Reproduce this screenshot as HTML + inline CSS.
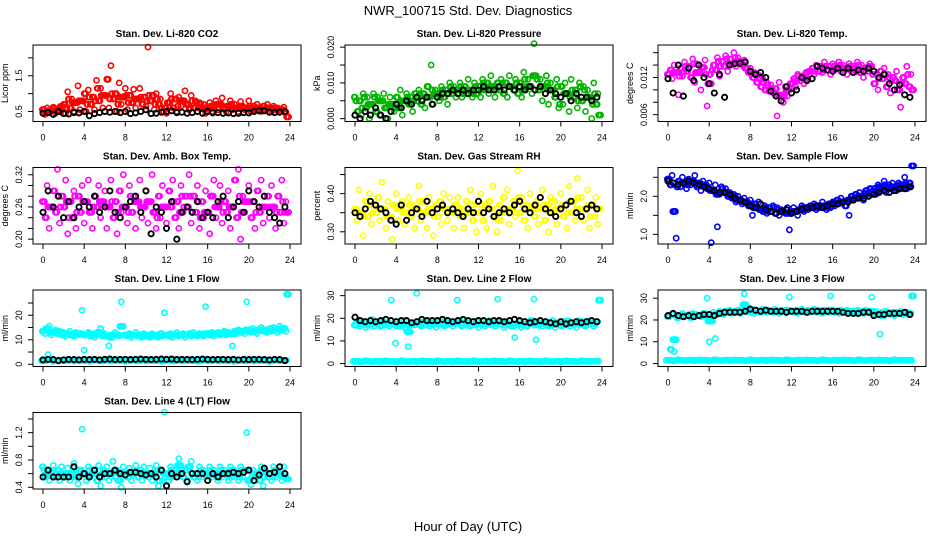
<!DOCTYPE html>
<html><head><meta charset="utf-8"><style>
body{margin:0;background:#fff}
svg{display:block;font-family:"Liberation Sans",Arial,sans-serif}
</style></head><body>
<svg id="chart" width="936" height="540" viewBox="0 0 936 540">
<rect width="936" height="540" fill="#fff"/>
<text x="468" y="15" text-anchor="middle" font-size="13">NWR_100715  Std. Dev. Diagnostics</text>
<text x="468" y="531" text-anchor="middle" font-size="13">Hour of Day (UTC)</text>
</svg>
<script>
const hourTicks=[0,4,8,12,16,20,24];
const co2Vals=[0.55,0.42,0.6,0.48,0.52,0.62,0.45,0.58,0.5,0.64,0.7,0.45,1.05,0.6,0.85,0.5,0.75,1.22,0.55,0.8,1.0,0.5,1.1,0.7,0.9,0.55,1.37,0.8,1.15,0.6,0.95,1.4,0.6,1.78,0.85,1.0,0.5,1.3,0.7,0.9,1.15,0.55,0.95,0.75,1.12,0.6,0.85,1.15,0.7,0.9,0.65,2.3,0.8,0.95,0.55,1.0,0.7,0.85,0.5,0.6,0.45,0.75,1.0,0.6,0.85,0.5,0.9,0.65,0.8,1.08,0.7,0.55,0.95,0.6,0.8,0.5,0.75,0.6,0.7,0.45,0.6,0.75,0.5,0.65,0.8,0.55,0.7,0.88,0.6,0.5,0.65,0.8,0.55,0.7,0.6,0.5,0.78,0.65,0.55,0.6,0.8,0.5,0.65,0.55,0.7,0.6,0.5,0.65,0.55,0.7,0.6,0.5,0.65,0.55,0.6,0.5,0.55,0.62,0.48,0.35];
const co2Black=[0.45,0.47,0.42,0.5,0.44,0.43,0.47,0.46,0.5,0.38,0.44,0.47,0.5,0.48,0.5,0.47,0.5,0.44,0.46,0.5,0.55,0.44,0.45,0.48,0.5,0.52,0.47,0.48,0.45,0.47,0.5,0.45,0.5,0.46,0.47,0.45,0.46,0.44,0.45,0.47,0.46,0.5,0.52,0.52,0.48,0.47,0.48,0.5];
const presVals=[.006,.002,.005,.001,.007,.003,.006,.000,.004,.007,.002,.006,.001,.005,.007,.003,.000,.006,.004,.002,.006,.003,.008,.001,.005,.007,.004,.006,.002,.007,.005,.008,.004,.007,.003,.009,.006,.015,.004,.008,.007,.005,.009,.006,.008,.004,.010,.007,.009,.006,.008,.010,.006,.009,.007,.011,.008,.006,.010,.007,.009,.006,.011,.008,.010,.007,.012,.009,.006,.010,.008,.011,.007,.010,.006,.012,.009,.008,.011,.007,.010,.006,.013,.008,.011,.009,.007,.021,.012,.008,.011,.005,.009,.012,.004,.010,.008,.006,.011,.003,.009,.004,.010,.007,.002,.011,.006,.008,.003,.010,.005,.009,.002,.008,.006,.000,.010,.004,.007,.001];
const presBlack=[.001,.000,.002,.001,.003,.001,.000,.002,.004,.003,.005,.004,.006,.005,.006,.004,.006,.007,.007,.008,.007,.008,.007,.008,.008,.009,.008,.008,.009,.008,.009,.008,.009,.008,.009,.008,.009,.007,.008,.007,.006,.007,.005,.007,.006,.006,.005,.006];
const tempVals=[.0125,.0132,.0118,.0140,.0128,.0092,.0135,.0122,.0145,.0130,.0138,.0120,.0150,.0112,.0142,.0128,.0100,.0136,.0148,.0074,.0125,.0110,.0140,.0132,.0152,.0122,.0146,.0138,.0155,.0130,.0150,.0142,.0160,.0138,.0152,.0146,.0140,.0148,.0135,.0128,.0135,.0120,.0128,.0112,.0124,.0105,.0118,.0100,.0112,.0098,.0108,.0095,.0102,.0058,.0112,.0092,.0080,.0105,.0090,.0100,.0110,.0118,.0105,.0125,.0115,.0122,.0110,.0128,.0118,.0130,.0135,.0125,.0140,.0130,.0138,.0128,.0145,.0132,.0138,.0125,.0142,.0132,.0138,.0145,.0130,.0140,.0135,.0125,.0142,.0135,.0138,.0130,.0145,.0128,.0140,.0120,.0135,.0130,.0142,.0138,.0110,.0125,.0100,.0130,.0118,.0135,.0105,.0125,.0095,.0120,.0115,.0130,.0100,.0072,.0120,.0110,.0138,.0105,.0125,.0100];
const tempBlack=[.0118,.0095,.0140,.0090,.0135,.0115,.0140,.0120,.0110,.0095,.0125,.0088,.0140,.0142,.0143,.0145,.0130,.0125,.0128,.0120,.0098,.0090,.0082,.0105,.0095,.0100,.0120,.0115,.0118,.0138,.0135,.0132,.0130,.0135,.0128,.0135,.0128,.0132,.0130,.0135,.0130,.0120,.0125,.0110,.0100,.0108,.0092,.0088];
const ambVals=[.27,.24,.30,.22,.26,.29,.25,.33,.23,.28,.26,.31,.21,.27,.24,.29,.22,.28,.25,.30,.23,.27,.31,.25,.22,.28,.26,.30,.24,.27,.29,.22,.26,.31,.24,.27,.21,.29,.25,.32,.26,.23,.30,.25,.28,.22,.27,.31,.24,.26,.29,.23,.27,.32,.25,.22,.28,.24,.30,.26,.23,.29,.26,.31,.24,.27,.22,.30,.25,.28,.26,.32,.23,.28,.25,.30,.22,.27,.24,.29,.25,.21,.28,.31,.24,.26,.30,.23,.27,.25,.29,.22,.26,.31,.24,.33,.20,.28,.25,.27,.30,.24,.27,.22,.29,.25,.31,.23,.26,.28,.24,.30,.26,.22,.28,.25,.31,.23,.27,.25];
const ambBlack=[.25,.29,.26,.28,.24,.27,.24,.26,.27,.26,.28,.25,.26,.29,.25,.24,.26,.27,.28,.25,.29,.21,.26,.25,.22,.27,.20,.25,.26,.25,.27,.24,.25,.24,.27,.28,.24,.26,.27,.25,.29,.27,.26,.28,.25,.24,.23,.26];
const rhVals=[.36,.33,.41,.35,.29,.38,.34,.40,.32,.37,.35,.39,.33,.43,.36,.31,.38,.34,.28,.37,.40,.33,.36,.38,.32,.35,.39,.34,.37,.31,.36,.42,.33,.38,.35,.31,.39,.36,.29,.37,.34,.38,.32,.40,.36,.33,.39,.35,.31,.37,.39,.34,.36,.31,.38,.35,.41,.33,.37,.30,.35,.40,.33,.37,.31,.38,.36,.42,.34,.30,.37,.33,.39,.35,.41,.32,.36,.38,.34,.46,.35,.39,.33,.37,.31,.40,.36,.34,.38,.32,.36,.41,.33,.37,.30,.39,.35,.38,.32,.36,.40,.34,.37,.31,.42,.35,.38,.33,.44,.36,.39,.33,.36,.41,.31,.37,.34,.39,.32,.36];
const rhBlack=[.35,.34,.36,.38,.37,.36,.35,.33,.32,.37,.33,.35,.36,.34,.38,.35,.36,.37,.35,.36,.35,.34,.36,.35,.38,.35,.36,.34,.35,.36,.35,.37,.38,.36,.35,.37,.39,.36,.35,.34,.36,.37,.38,.35,.34,.36,.37,.36];
const sflowVals=[2.45,2.3,2.55,1.6,0.9,2.4,2.25,2.5,2.35,2.2,2.45,2.3,2.4,2.55,2.25,2.35,2.15,2.4,2.3,2.2,2.35,0.78,2.15,2.3,1.2,2.05,2.25,2.1,2.2,2.0,2.1,1.95,2.05,1.85,2.0,1.9,1.8,1.95,1.85,1.75,1.9,1.5,1.8,1.7,1.85,1.65,1.6,1.75,1.55,1.7,1.6,1.75,1.55,1.7,1.5,1.65,1.6,1.55,1.7,1.12,1.55,1.7,1.6,1.5,1.65,1.75,1.6,1.7,1.65,1.75,1.7,1.8,1.65,1.75,1.7,1.85,1.75,1.65,1.8,1.7,1.85,1.75,1.9,1.8,1.95,1.85,1.75,1.9,1.5,2.0,1.9,2.05,1.95,2.1,2.0,1.9,2.15,2.05,2.2,2.1,2.2,2.05,2.3,2.15,2.25,2.4,2.1,2.3,2.2,2.35,2.25,2.15,2.35,2.2,2.3,2.5,2.2,2.35,2.25,2.8];
const sflowBlack=[2.4,2.35,2.3,2.35,2.4,2.35,2.3,2.25,2.2,2.15,2.1,2.1,2.05,1.95,1.9,1.85,1.75,1.7,1.8,1.65,1.6,1.55,1.6,1.65,1.55,1.6,1.65,1.7,1.7,1.75,1.7,1.75,1.8,1.8,1.85,1.85,1.9,1.95,1.95,2.0,2.05,2.1,2.15,2.1,2.15,2.2,2.2,2.25];
const l1Vals=[13.5,12.5,14.5,15.5,12,13,14,12.5,13.5,12,13,11.5,12.5,13.5,12,11.5,13,12,12.5,22,5.8,12,13,11.5,12.5,11,12,13,14.5,11.5,12.5,11.5,7.5,12,11,13,12,11.5,25.5,15.5,12,11.5,12.5,11,12,13,11.5,12,11,12.5,11.5,12,11,12.5,11.5,12,11,12.5,11.5,21,12,11.5,12.5,11,12,13,11.5,12,12.5,11,12,12.5,11.5,13,12,11.5,12.5,12,11.5,23.5,12.5,12,13,11.5,12.5,13,12,12.5,13.5,12,13,12.5,7.5,13.5,12.5,14,13,13.5,12.5,25.5,14,13,14.5,13.5,12.5,14,15,13.5,14,13,14.5,13.5,15,14,13,15.5,14,14.5,13.5,28.5];
const l1Low=[1.5,4,1.2,1.8,1.4,1.6,1.3,1.7,1.5,1.2,1.8,1.4,1.6,1.3,1.7,1.5,1.2,1.8,1.4,1.6,1.3,1.7,1.5,1.2,1.8,1.4,1.6,1.3,1.7,1.5,1.2,1.8,1.4,1.6,1.3,1.7,1.5,1.2,1.8,1.4,1.6,1.3,1.7,1.5,1.2,1.8,1.4,1.6];
const l1Black=[1.8,2,1.9,1.5,1.8,2,1.9,1.8,2,1.9,2,1.8,2,2.1,1.9,2,2,1.9,2,2.1,2,1.9,2,2.1,2,2.1,1.9,2,2,1.9,2,2.1,2,1.9,2,2,1.9,2,1.8,2,1.9,2,2,1.9,1.8,2,1.9,1.5];
const l2Vals=[17,18.5,16.5,19,17.5,16,18,17,19.5,16.5,17.5,18.5,16.5,19,17,18,16.5,28,17.5,9,18.5,16.5,17,19,16,7.5,14,18,17,31,17.5,16.5,18.5,17,19,16.5,18,17.5,16,19,17.5,18.5,16.5,17,19,18,16.5,17.5,28,18,16.5,19,17,18,16.5,18.5,17,19,16,17.5,18.5,16.5,17.5,19,17,18,16.5,28.5,17.5,18.5,16,18,17,19,16.5,11.5,17.5,18.5,16,17,18.5,16.5,17.5,19,28.5,10.5,17,18,16.5,17.5,18.5,16.5,17,19,16,18,17.5,16.5,18.5,17,19,16.5,18,17.5,16,19,17.5,18.5,16.5,17,19,18,16.5,17.5,18.5,28];
const l2Low=[1,0.8,1.3,0.9,1.1,0.7,1.2,1,0.8,1.3,0.9,1.1,0.7,1.2,1,0.8,1.3,0.9,1.1,0.7,1.2,1,0.8,1.3,0.9,1.1,0.7,1.2,1,0.8,1.3,0.9,1.1,0.7,1.2,1,0.8,1.3,0.9,1.1,0.7,1.2,1,0.8,1.3,0.9,1.1,1];
const l2Black=[20.5,19,18.5,19,18.5,19,19.5,19,18.5,19,19,18,18.5,19.5,19,19,19,19.5,19,18.5,19,19.5,19,18.5,19,19,18.5,19,19,18.5,19,19.5,19,18.5,18,18.5,19,18.5,18,17.5,18.5,17.5,18,18.5,18,18.5,19,18.5];
const l3Vals=[21.5,6.5,22.5,5.5,11,21,22,23,21.5,22,22.5,21,23,21.5,22.5,22,21.5,23,22,30,10,19.5,23.5,11.5,22.5,24,23,22.5,24,23.5,24.5,23,24,23.5,24.5,23,24,32,27,24,23.5,24.5,23,24.5,24,23.5,25,24,23.5,24.5,24,23.5,25,24,23,24.5,24,23.5,24.5,30.5,24,23.5,24.5,23,24,25,23.5,24,24.5,23.5,24,25,23.5,24.5,24,23,24.5,24,23.5,31,24.5,23.5,24,23,24.5,24,23.5,24.5,24,23.5,24,23,24.5,23.5,24,23,24.5,23.5,24,30.5,23,24,22.5,13.5,23.5,22,24,23,22.5,23.5,22,23.5,23,24,22.5,23,23.5,22.5,23,31];
const l3Low=[1.5,1.2,1.8,1.4,1.6,1.3,1.7,1.5,1.2,1.8,1.4,1.6,1.3,1.7,1.5,1.2,1.8,1.4,1.6,1.3,1.7,1.5,1.2,1.8,1.4,1.6,1.3,1.7,1.5,1.2,1.8,1.4,1.6,1.3,1.7,1.5,1.2,1.8,1.4,1.6,1.3,1.7,1.5,1.2,1.8,1.4,1.6,1.5];
const l3Black=[22,23,22,21.5,22,21.5,22,22.5,22.5,22,23,23.5,23.5,23.5,23.5,24,25,24.5,24,24.5,24,24,24,23.5,24,24,24,23.5,24,24,24,24,24,24,23.5,23,23,23,23.5,23.5,22,22.5,22.5,23,23,23,23.5,22.5];
const l4Vals=[0.7,0.55,0.65,0.5,0.6,0.72,0.55,0.65,0.5,0.7,0.6,0.55,0.68,0.5,0.6,0.75,0.55,0.45,0.65,1.25,0.6,0.5,0.7,0.55,0.65,0.6,0.5,0.72,0.42,0.65,0.55,0.7,0.5,0.6,0.78,0.55,0.65,0.5,0.4,0.7,0.6,0.55,0.68,0.5,0.6,0.72,0.55,0.65,0.5,0.7,0.6,0.55,0.68,0.5,0.6,0.72,0.42,0.65,0.5,1.5,0.6,0.5,0.7,0.55,0.65,0.6,0.82,0.72,0.55,0.65,0.5,0.7,0.78,0.55,0.6,0.5,0.7,0.55,0.65,0.6,0.5,0.7,0.55,0.65,0.6,0.5,0.7,0.55,0.65,0.6,0.5,0.7,0.55,0.65,0.6,0.5,0.7,0.55,0.65,1.2,0.5,0.44,0.65,0.55,0.6,0.5,0.7,0.42,0.65,0.55,0.6,0.5,0.7,0.55,0.65,0.6,0.5,0.7,0.55,0.52];
const l4Black=[0.55,0.65,0.55,0.55,0.55,0.55,0.7,0.55,0.6,0.55,0.65,0.55,0.6,0.6,0.65,0.6,0.58,0.62,0.62,0.6,0.58,0.6,0.55,0.65,0.42,0.6,0.55,0.6,0.48,0.6,0.6,0.6,0.5,0.6,0.55,0.6,0.6,0.62,0.6,0.62,0.65,0.5,0.58,0.68,0.6,0.62,0.7,0.6];

const panels=[
 {name:'co2',title:'Stan. Dev. Li-820 CO2',ylab:'Licor ppm',col:0,row:0,ymin:0.22,ymax:2.36,ticks:[0.5,1,1.5,2],labels:['0.5','','1.5',''],series:[[co2Vals,'#ff0000',1],[co2Black,'#000',0]]},
 {name:'pressure',title:'Stan. Dev. Li-820 Pressure',ylab:'kPa',col:1,row:0,ymin:-0.0008,ymax:0.0206,ticks:[0,0.005,0.01,0.015,0.02],labels:['0.000','','0.010','','0.020'],series:[[presVals,'#00b400',1],[presBlack,'#000',0]]},
 {name:'li820-temp',title:'Stan. Dev. Li-820 Temp.',ylab:'degrees C',col:2,row:0,ymin:0.0049,ymax:0.01724,ticks:[0.006,0.008,0.01,0.012,0.014,0.016],labels:['0.006','','','0.012','',''],series:[[tempVals,'#ff00ff',1],[tempBlack,'#000',0]]},
 {name:'amb-box-temp',title:'Stan. Dev. Amb. Box Temp.',ylab:'degrees C',col:0,row:1,ymin:0.191,ymax:0.3335,ticks:[0.2,0.22,0.24,0.26,0.28,0.3,0.32],labels:['0.20','','','0.26','','','0.32'],series:[[ambVals,'#ff00ff',1],[ambBlack,'#000',0]]},
 {name:'gas-rh',title:'Stan. Dev. Gas Stream RH',ylab:'percent',col:1,row:1,ymin:0.268,ymax:0.4685,ticks:[0.3,0.35,0.4,0.45],labels:['0.30','','0.40',''],series:[[rhVals,'#ffff00',1],[rhBlack,'#000',0]]},
 {name:'sample-flow',title:'Stan. Dev. Sample Flow',ylab:'ml/min',col:2,row:1,ymin:0.747,ymax:2.757,ticks:[1,1.5,2,2.5],labels:['1.0','','2.0',''],series:[[sflowVals,'#0000ff',1],[sflowBlack,'#000',0]]},
 {name:'line1-flow',title:'Stan. Dev. Line 1 Flow',ylab:'ml/min',col:0,row:2,ymin:-0.9,ymax:30.3,ticks:[0,5,10,15,20,25],labels:['0','','10','','20',''],series:[[l1Vals,'#00ffff',1],[l1Low,'#00ffff',1],[l1Black,'#000',0]]},
 {name:'line2-flow',title:'Stan. Dev. Line 2 Flow',ylab:'ml/min',col:1,row:2,ymin:-1.3,ymax:32.5,ticks:[0,10,20,30],labels:['0','10','20','30'],series:[[l2Vals,'#00ffff',1],[l2Low,'#00ffff',1],[l2Black,'#000',0]]},
 {name:'line3-flow',title:'Stan. Dev. Line 3 Flow',ylab:'ml/min',col:2,row:2,ymin:-1.35,ymax:33.75,ticks:[0,10,20,30],labels:['0','10','20','30'],series:[[l3Vals,'#00ffff',1],[l3Low,'#00ffff',1],[l3Black,'#000',0]]},
 {name:'line4-flow',title:'Stan. Dev. Line 4 (LT) Flow',ylab:'ml/min',col:0,row:3,ymin:0.375,ymax:1.495,ticks:[0.4,0.6,0.8,1.0,1.2,1.4],labels:['0.4','','0.8','','1.2',''],series:[[l4Vals,'#00ffff',1],[l4Black,'#000',0]]}
];
const NS='http://www.w3.org/2000/svg';
const svg=document.getElementById('chart');
const colLeft=[33,345,658], rowTop=[45,167.5,290,412.5], boxW=268, boxH=76.5;
function mk(tag,attrs,parent){const e=document.createElementNS(NS,tag);for(const k in attrs)e.setAttribute(k,attrs[k]);parent.appendChild(e);return e;}
function med3(a,b,c){return Math.max(Math.min(a,b),Math.min(Math.max(a,b),c));}
panels.forEach(p=>{
  const L=colLeft[p.col],T=rowTop[p.row],B=T+boxH,R=L+boxW;
  const x0=L+10,xs=247/24;
  const X=h=>x0+h*xs;
  const Y=v=>B-(v-p.ymin)/(p.ymax-p.ymin)*boxH;
  const g=mk('g',{},svg);
  
  
  const t=mk('text',{x:(L+R)/2,y:T-8,'text-anchor':'middle','font-size':'10','font-weight':'bold'},g);
  t.textContent=p.title;
  
  
  const pts=mk('g',{fill:'none'},g);
  
  
  p.series.forEach(([arr,color,dense])=>{
    const n=arr.length, step=24/n;
    const at=k=>arr[Math.max(0,Math.min(n-1,k))];
    arr.forEach((v,i)=>{
      const hx=i*step;
      if(dense){
        // extra in-band marks (median of neighbouring readings) to mimic denser sampling
        [[hx-step/3,med3(at(i-1),v,at(i+1))],[hx+step/3,med3(v,at(i+1),at(i+2))]].forEach(([h2,v2])=>{
          const c2=mk('circle',{cx:X(h2).toFixed(1),cy:Y(v2).toFixed(1),r:'2.6',stroke:color,'stroke-width':'1.6'},pts);
          
          
        });
      }
      const c=mk('circle',{cx:X(hx).toFixed(1),cy:Y(v).toFixed(1),r:'2.6',stroke:color,'stroke-width':dense?'1.6':'1.9'},pts);
      
      
    });
  });
  const box=mk('rect',{x:L,y:T,width:boxW,height:boxH,fill:'none',stroke:'#000','stroke-width':'1'},g);
  
  
  const xa=mk('g',{stroke:'#000','stroke-width':'1'},g);
  
  
  hourTicks.forEach(h=>{
    mk('line',{x1:X(h),x2:X(h),y1:B,y2:B+5},xa);
    const tl=mk('text',{x:X(h),y:B+19,'text-anchor':'middle','font-size':'9',stroke:'none'},xa);
    tl.textContent=h;
  });
  const ya=mk('g',{stroke:'#000','stroke-width':'1'},g);
  
  
  p.ticks.forEach((v,i)=>{
    const y=Y(v);
    mk('line',{x1:L-5,x2:L,y1:y,y2:y},ya);
    if(p.labels[i]){
      const tl=mk('text',{x:L-11,y:y,'text-anchor':'middle','font-size':'9',stroke:'none',transform:`rotate(-90 ${L-11} ${y})`},ya);
      tl.textContent=p.labels[i];
    }
  });
  const yl=mk('text',{x:L-25,y:(T+B)/2,'text-anchor':'middle','font-size':'9',transform:`rotate(-90 ${L-25} ${(T+B)/2})`},g);
  yl.textContent=p.ylab;
  
  
});
</script>
</body></html>
